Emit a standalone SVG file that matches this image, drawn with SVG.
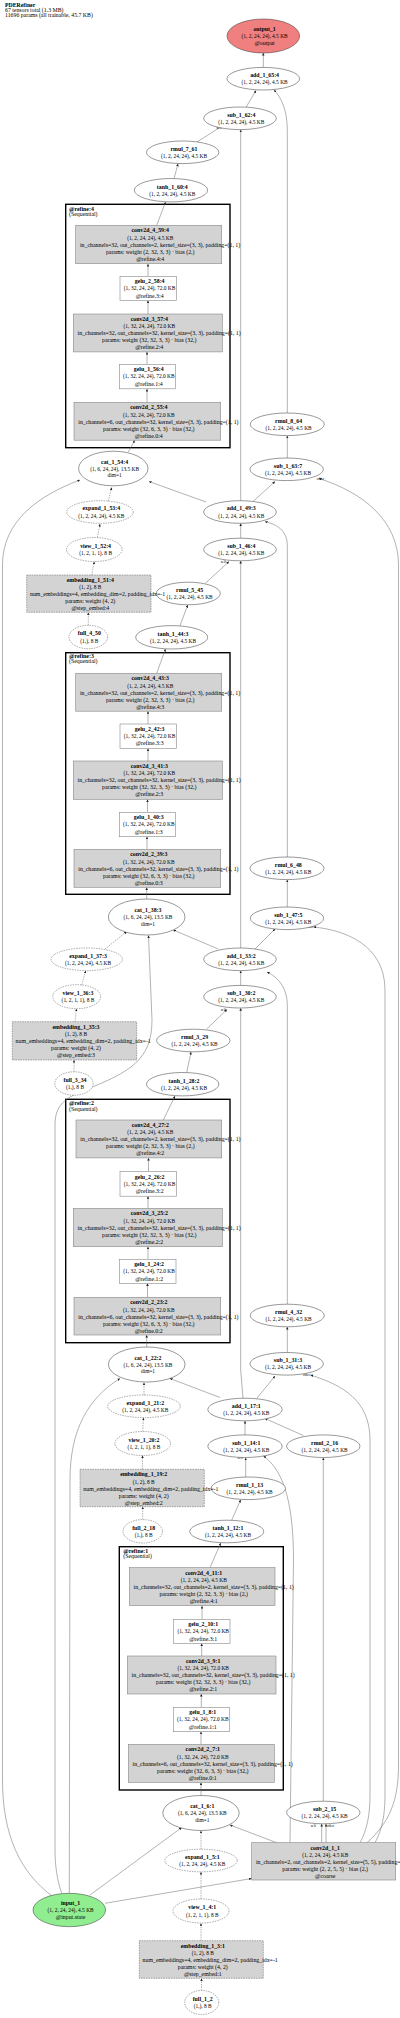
<svg xmlns="http://www.w3.org/2000/svg" width="400" height="2018" viewBox="0 0 400 2018">
<style>
text{font-family:"Liberation Serif","Times New Roman",serif;font-size:5.85px;text-anchor:middle;fill:#000}
.b{font-weight:bold}
.s{font-size:5.4px}
.w{text-anchor:start}
.l{text-anchor:start}
.h{font-size:5.8px;text-anchor:start}
.e{font-size:3.6px}
.el{fill:#fff;stroke:#333;stroke-width:0.5}
.ed{fill:#fff;stroke:#555;stroke-width:0.5;stroke-dasharray:1.5,1}
.bx{fill:#d3d3d3;stroke:#888;stroke-width:0.6}
.bw{fill:#fff;stroke:#888;stroke-width:0.6}
.bd{fill:#d3d3d3;stroke:#555;stroke-width:0.5;stroke-dasharray:1.5,1}
.cl{fill:none;stroke:#000;stroke-width:1.4}
#edges path{fill:none;stroke:#666;stroke-width:0.5;marker-end:url(#a)}
#edges path.d{stroke-dasharray:1.5,1}
</style>
<defs>
<marker id="a" viewBox="0 0 10 10" refX="10" refY="5" markerWidth="2.6" markerHeight="2.6" orient="auto" markerUnits="userSpaceOnUse"><path d="M0,0 L10,5 L0,10 z" fill="#222"/></marker>
</defs>
<rect width="400" height="2018" fill="#fff"/>
<g id="header">
<text class="h b" x="5" y="6.6">PDERefiner</text>
<text class="h" x="5" y="11.6">67 tensors total (1.3 MB)</text>
<text class="h" x="5" y="16.6">11696 params (all trainable, 45.7 KB)</text>
</g>
<g id="clusters">
<g id="cluster_refine4"><rect class="cl" x="65.7" y="204.3" width="164.3" height="243.4"/><text class="l b" x="69" y="211">@refine:4</text><text class="l" x="69" y="216.3">(Sequential)</text></g>
<g id="cluster_refine3"><rect class="cl" x="65.7" y="652.7" width="164.3" height="241.6"/><text class="l b" x="69" y="657.7">@refine:3</text><text class="l" x="69" y="663">(Sequential)</text></g>
<g id="cluster_refine2"><rect class="cl" x="65.7" y="1099.3" width="164.3" height="243.4"/><text class="l b" x="69" y="1105.3">@refine:2</text><text class="l" x="69" y="1111">(Sequential)</text></g>
<g id="cluster_refine1"><rect class="cl" x="119.3" y="1546.7" width="164" height="243.3"/><text class="l b" x="123.3" y="1552.7">@refine:1</text><text class="l" x="123.3" y="1558">(Sequential)</text></g>
</g>
<g id="edges">
<path d="M263.3,67.4 L263.3,53"/>
<path d="M246,107.3 L256,90.5"/>
<path d="M287.3,413 L287.3,130 C287.3,110 281,97 274,90"/>
<path d="M197,142 L222,126"/>
<path d="M240.7,500.7 L240.7,129.8"/>
<path d="M174,178.5 L178,163.8"/>
<path d="M156.7,225.3 L165.5,202"/>
<path d="M148,276.3 L148,263.9"/>
<path d="M148,314 L148,300.5"/>
<path d="M147,364.3 L147,351.9"/>
<path d="M147,402.3 L147,389"/>
<path d="M128.3,452 L134.7,440.3"/>
<path d="M287.3,458 L287.3,435.8"/>
<path d="M206,502 L149,481.5"/>
<path d="M253,501.5 L275,481.5"/>
<path d="M52,1896 C20,1872 2.5,1835 2.5,1780 L2.5,565 C2.5,520 40,495 80,480"/>
<path d="M367,1842.7 C390,1822 398.5,1800 398.5,1765 L398.5,565 C398.5,520 362,492 319,478.5"/>
<path class="d" d="M108.3,501 L111.7,487.5"/>
<path class="d" d="M97.3,537.5 L100,524"/>
<path class="d" d="M91.7,575 L94.3,561.7"/>
<path class="d" d="M88.3,625.3 L88.3,612.5"/>
<path d="M205.7,583 L229,561.5"/>
<path d="M240.7,538 L240.7,523.5"/>
<path d="M287.3,857 L287.3,545 C287.3,531 277,524 265,521.7"/>
<path d="M240.7,948 L240.7,561"/>
<path d="M180,625.7 L187.7,605"/>
<path d="M156.7,673.3 L165.5,649"/>
<path d="M148,724 L148,711.2"/>
<path d="M148,761 L148,748.5"/>
<path d="M147.5,812.3 L147.5,799.5"/>
<path d="M147,849.3 L147,836.8"/>
<path d="M146.7,899 L146.7,887.5"/>
<path d="M287.3,907 L287.3,879.8"/>
<path d="M218.3,949 L173.3,930"/>
<path d="M255,949 L275,929"/>
<path class="d" d="M105,949 L126.7,931.7"/>
<path class="d" d="M81.7,985 L85.7,970.8"/>
<path class="d" d="M75,1021.7 L76.5,1008.8"/>
<path class="d" d="M74,1071.8 L74,1060"/>
<path d="M61.7,1893.3 C57,1880 55,1865 55,1850 L55,1125 C55,1105 65,1098 85,1090 C130,1072 152,1060 152,1020 L148.5,935.5"/>
<path d="M240.7,985.4 L240.7,970.8"/>
<path d="M287.3,1304.2 L287.3,1005 C287.3,990 280,978 267,972"/>
<path d="M243,1398.2 L240.7,1370 L240.7,1008.2"/>
<path d="M206.7,1029 L227,1009.5"/>
<path d="M186.7,1072.5 L191,1052"/>
<path d="M163.3,1120 L175,1096"/>
<path d="M148.5,1171.7 L148.5,1158"/>
<path d="M148,1208.3 L148,1196.2"/>
<path d="M148,1259.3 L148,1246.8"/>
<path d="M147.5,1297.3 L147.5,1283.3"/>
<path d="M146.7,1347 L146.7,1335"/>
<path d="M287.3,1352.5 L287.3,1327"/>
<path d="M220,1397.5 L170,1378.5"/>
<path d="M256.7,1398.5 L275,1376"/>
<path class="d" d="M144,1395 L144,1382.5"/>
<path class="d" d="M142.7,1431.5 L143.5,1417.8"/>
<path class="d" d="M142.5,1469.3 L142.5,1455.5"/>
<path class="d" d="M142.7,1519.6 L142.7,1506.7"/>
<path d="M69.3,1893.3 L70,1480 C70,1430 88,1398 120,1378.5"/>
<path d="M360,1842.7 C367,1830 370,1815 370,1795 L370,1440 C370,1400 342,1385 310.5,1375"/>
<path d="M245,1434.9 L245,1421"/>
<path d="M303.3,1435.5 L265,1418.5"/>
<path d="M245.7,1477 L245.7,1457.8"/>
<path d="M290,1842.7 L293.5,1560 C293.5,1510 286,1472 263.5,1456"/>
<path d="M323.3,1801.2 L323.3,1457.7"/>
<path d="M231.7,1520.2 L240.7,1499.8"/>
<path d="M210,1567.7 L220.7,1543"/>
<path d="M202,1619.3 L202,1606"/>
<path d="M201.7,1656 L201.7,1643.5"/>
<path d="M201.3,1707.3 L201.3,1694"/>
<path d="M201,1744.3 L201,1731.8"/>
<path d="M201,1795.5 L201,1782.5"/>
<path d="M321.7,1842.7 L321.7,1824"/>
<path d="M326,1842.7 L326,1824"/>
<path d="M276.7,1842.7 L230,1825"/>
<path d="M90,1895 L181.7,1827.5"/>
<path class="d" d="M201,1849.2 L201,1830.7"/>
<path class="d" d="M201,1899 L201,1872"/>
<path class="d" d="M201,1940.7 L201,1923.2"/>
<path class="d" d="M201.5,1990.5 L201.5,1978.5"/>
<path d="M105,1903.3 L251.7,1878.5"/>
<path d="M375,1842.7 C382,1830 385,1815 385,1795 L385,990 C385,945 345,930 313.5,927"/>
</g>
<g id="edge_labels">
<text class="e" x="219" y="128.9">self</text>
<text class="e" x="223.3" y="562.9">self</text>
<text class="e" x="223.3" y="1010.5">self</text>
<text class="e" x="240" y="1458.9">self</text>
<text class="e" x="263.3" y="1456.2">other</text>
<text class="e" x="320.5" y="479.5">other</text>
<text class="e" x="309.5" y="928.2">other</text>
<text class="e" x="306.7" y="1376.2">other</text>
<text class="e" x="313.3" y="1827.2">self</text>
<text class="e" x="330.5" y="1827.2">other</text>
</g>
<g id="output_1"><ellipse cx="263.3" cy="36" rx="36.3" ry="17" fill="#f08080" stroke="#333" stroke-width="0.5"/><text class="b" x="264.6" y="31.1">output_1</text><text class="s" x="264.6" y="38">(1, 2, 24, 24), 4.5 KB</text><text x="264.6" y="44.9">@output</text></g>
<g id="add_1_65_4"><ellipse class="el" cx="263.3" cy="78.7" rx="36.3" ry="11.3"/><text class="b" x="264.6" y="77.1">add_1_65:4</text><text class="s" x="264.6" y="84.3">(1, 2, 24, 24), 4.5 KB</text></g>
<g id="sub_1_62_4"><ellipse class="el" cx="240" cy="118.3" rx="36.3" ry="11.3"/><text class="b" x="241.3" y="116.7">sub_1_62:4</text><text class="s" x="241.3" y="123.9">(1, 2, 24, 24), 4.5 KB</text></g>
<g id="rmul_7_61"><ellipse class="el" cx="182.7" cy="152.3" rx="36.2" ry="11.3"/><text class="b" x="184" y="150.7">rmul_7_61</text><text class="s" x="184" y="157.9">(1, 2, 24, 24), 4.5 KB</text></g>
<g id="tanh_1_60_4"><ellipse class="el" cx="171" cy="190.2" rx="36.7" ry="11.7"/><text class="b" x="172.3" y="188.6">tanh_1_60:4</text><text class="s" x="172.3" y="195.8">(1, 2, 24, 24), 4.5 KB</text></g>
<g id="conv2d_4_59_4"><rect class="bx" x="75.7" y="225.3" width="146" height="38.4"/><text class="b" x="150.2" y="232.3">conv2d_4_59:4</text><text class="s" x="150.2" y="239.5">(1, 2, 24, 24), 4.5 KB</text><text class="w" x="80" y="246.6">in_channels=32, out_channels=2, kernel_size=(3, 3), padding=(1, 1)</text><text x="150.2" y="253.7">params: weight (2, 32, 3, 3) · bias (2,)</text><text x="150.2" y="260.7">@refine.4:4</text></g>
<g id="gelu_2_58_4"><rect class="bw" x="120" y="276.3" width="56.3" height="24.2"/><text class="b" x="149.6" y="283.1">gelu_2_58:4</text><text class="s" x="149.6" y="290.3">(1, 32, 24, 24), 72.0 KB</text><text x="149.6" y="297.6">@refine.3:4</text></g>
<g id="conv2d_3_57_4"><rect class="bx" x="73.3" y="314" width="149" height="37.9"/><text class="b" x="149.3" y="321">conv2d_3_57:4</text><text class="s" x="149.3" y="328.2">(1, 32, 24, 24), 72.0 KB</text><text class="w" x="77.6" y="335.3">in_channels=32, out_channels=32, kernel_size=(3, 3), padding=(1, 1)</text><text x="149.3" y="342.4">params: weight (32, 32, 3, 3) · bias (32,)</text><text x="149.3" y="349.4">@refine.2:4</text></g>
<g id="gelu_1_56_4"><rect class="bw" x="119.3" y="364.3" width="56" height="24.5"/><text class="b" x="148.8" y="371.1">gelu_1_56:4</text><text class="s" x="148.8" y="378.3">(1, 32, 24, 24), 72.0 KB</text><text x="148.8" y="385.6">@refine.1:4</text></g>
<g id="conv2d_2_55_4"><rect class="bx" x="74" y="402.3" width="146.7" height="37.9"/><text class="b" x="148.8" y="409.3">conv2d_2_55:4</text><text class="s" x="148.8" y="416.5">(1, 32, 24, 24), 72.0 KB</text><text class="w" x="78.3" y="423.6">in_channels=6, out_channels=32, kernel_size=(3, 3), padding=(1, 1)</text><text x="148.8" y="430.7">params: weight (32, 6, 3, 3) · bias (32,)</text><text x="148.8" y="437.7">@refine.0:4</text></g>
<g id="cat_1_54_4"><ellipse class="el" cx="113.3" cy="468.5" rx="34.7" ry="17.3"/><text class="b" x="114.6" y="463.6">cat_1_54:4</text><text class="s" x="114.6" y="470.5">(1, 6, 24, 24), 13.5 KB</text><text class="s" x="114.6" y="477.4">dim=1</text></g>
<g id="rmul_8_64"><ellipse class="el" cx="287.3" cy="424.3" rx="37" ry="11.3"/><text class="b" x="288.6" y="422.7">rmul_8_64</text><text class="s" x="288.6" y="429.9">(1, 2, 24, 24), 4.5 KB</text></g>
<g id="sub_1_63_7"><ellipse class="el" cx="286.7" cy="469.3" rx="36.7" ry="11.3"/><text class="b" x="288" y="467.7">sub_1_63:7</text><text class="s" x="288" y="474.9">(1, 2, 24, 24), 4.5 KB</text></g>
<g id="add_1_49_3"><ellipse class="el" cx="240" cy="512" rx="36.3" ry="11.3"/><text class="b" x="241.3" y="510.4">add_1_49:3</text><text class="s" x="241.3" y="517.6">(1, 2, 24, 24), 4.5 KB</text></g>
<g id="expand_1_53_4"><ellipse class="ed" cx="100" cy="512" rx="33.3" ry="11.3"/><text class="b" x="101.3" y="510.4">expand_1_53:4</text><text class="s" x="101.3" y="517.6">(1, 2, 24, 24), 4.5 KB</text></g>
<g id="view_1_52_4"><ellipse class="ed" cx="94.3" cy="549.5" rx="27.8" ry="12"/><text class="b" x="95.6" y="547.9">view_1_52:4</text><text class="s" x="95.6" y="555.1">(1, 2, 1, 1), 8 B</text></g>
<g id="rmul_5_45"><ellipse class="el" cx="188.3" cy="593.5" rx="32" ry="11.3"/><text class="b" x="189.6" y="591.9">rmul_5_45</text><text class="s" x="189.6" y="599.1">(1, 2, 24, 24), 4.5 KB</text></g>
<g id="embedding_1_51_4"><rect class="bd" x="26.7" y="575" width="124.3" height="37.3"/><text class="b" x="90.3" y="582">embedding_1_51:4</text><text class="s" x="90.3" y="589.2">(1, 2), 8 B</text><text class="w" x="30" y="596.3">num_embeddings=4, embedding_dim=2, padding_idx=-1</text><text x="90.3" y="603.4">params: weight (4, 2)</text><text x="90.3" y="610.4">@step_embed:4</text></g>
<g id="full_4_50"><ellipse class="ed" cx="88.3" cy="637" rx="19.3" ry="11.7"/><text class="b" x="89.3" y="635.4">full_4_50</text><text class="s" x="89.3" y="642.6">(1,), 8 B</text></g>
<g id="sub_1_46_4"><ellipse class="el" cx="240" cy="549.5" rx="36.3" ry="11.3"/><text class="b" x="241.3" y="547.9">sub_1_46:4</text><text class="s" x="241.3" y="555.1">(1, 2, 24, 24), 4.5 KB</text></g>
<g id="tanh_1_44_3"><ellipse class="el" cx="171.7" cy="637.3" rx="36" ry="11.7"/><text class="b" x="173" y="635.7">tanh_1_44:3</text><text class="s" x="173" y="642.9">(1, 2, 24, 24), 4.5 KB</text></g>
<g id="conv2d_4_43_3"><rect class="bx" x="75.7" y="673.3" width="146" height="37.9"/><text class="b" x="150.2" y="680.3">conv2d_4_43:3</text><text class="s" x="150.2" y="687.5">(1, 2, 24, 24), 4.5 KB</text><text class="w" x="80" y="694.6">in_channels=32, out_channels=2, kernel_size=(3, 3), padding=(1, 1)</text><text x="150.2" y="701.7">params: weight (2, 32, 3, 3) · bias (2,)</text><text x="150.2" y="708.7">@refine.4:3</text></g>
<g id="gelu_2_42_3"><rect class="bw" x="120" y="724" width="56.3" height="24.3"/><text class="b" x="149.6" y="730.8">gelu_2_42:3</text><text class="s" x="149.6" y="738">(1, 32, 24, 24), 72.0 KB</text><text x="149.6" y="745.3">@refine.3:3</text></g>
<g id="conv2d_3_41_3"><rect class="bx" x="73.3" y="761" width="149" height="38.3"/><text class="b" x="149.3" y="768">conv2d_3_41:3</text><text class="s" x="149.3" y="775.2">(1, 32, 24, 24), 72.0 KB</text><text class="w" x="77.6" y="782.3">in_channels=32, out_channels=32, kernel_size=(3, 3), padding=(1, 1)</text><text x="149.3" y="789.4">params: weight (32, 32, 3, 3) · bias (32,)</text><text x="149.3" y="796.4">@refine.2:3</text></g>
<g id="gelu_1_40_3"><rect class="bw" x="119.3" y="812.3" width="56" height="24.4"/><text class="b" x="148.8" y="819.1">gelu_1_40:3</text><text class="s" x="148.8" y="826.3">(1, 32, 24, 24), 72.0 KB</text><text x="148.8" y="833.6">@refine.1:3</text></g>
<g id="conv2d_2_39_3"><rect class="bx" x="74" y="849.3" width="146.7" height="38"/><text class="b" x="148.8" y="856.3">conv2d_2_39:3</text><text class="s" x="148.8" y="863.5">(1, 32, 24, 24), 72.0 KB</text><text class="w" x="78.3" y="870.6">in_channels=6, out_channels=32, kernel_size=(3, 3), padding=(1, 1)</text><text x="148.8" y="877.7">params: weight (32, 6, 3, 3) · bias (32,)</text><text x="148.8" y="884.7">@refine.0:3</text></g>
<g id="cat_1_38_3"><ellipse class="el" cx="146.7" cy="917" rx="38.3" ry="18"/><text class="b" x="148" y="912.1">cat_1_38:3</text><text class="s" x="148" y="919">(1, 6, 24, 24), 13.5 KB</text><text class="s" x="148" y="925.9">dim=1</text></g>
<g id="rmul_6_48"><ellipse class="el" cx="287" cy="868.3" rx="37" ry="11.3"/><text class="b" x="288.3" y="866.7">rmul_6_48</text><text class="s" x="288.3" y="873.9">(1, 2, 24, 24), 4.5 KB</text></g>
<g id="sub_1_47_5"><ellipse class="el" cx="287" cy="918.3" rx="36.7" ry="11.3"/><text class="b" x="288.3" y="916.7">sub_1_47:5</text><text class="s" x="288.3" y="923.9">(1, 2, 24, 24), 4.5 KB</text></g>
<g id="add_1_33_2"><ellipse class="el" cx="240" cy="959.3" rx="36.3" ry="11.3"/><text class="b" x="241.3" y="957.7">add_1_33:2</text><text class="s" x="241.3" y="964.9">(1, 2, 24, 24), 4.5 KB</text></g>
<g id="expand_1_37_3"><ellipse class="ed" cx="86.7" cy="959.3" rx="35.7" ry="11.3"/><text class="b" x="88" y="957.7">expand_1_37:3</text><text class="s" x="88" y="964.9">(1, 2, 24, 24), 4.5 KB</text></g>
<g id="view_1_36_3"><ellipse class="ed" cx="76.7" cy="996.7" rx="24" ry="12"/><text class="b" x="78" y="995.1">view_1_36:3</text><text class="s" x="78" y="1002.3">(1, 2, 1, 1), 8 B</text></g>
<g id="sub_1_30_2"><ellipse class="el" cx="240" cy="996.7" rx="36.3" ry="11.3"/><text class="b" x="241.3" y="995.1">sub_1_30:2</text><text class="s" x="241.3" y="1002.3">(1, 2, 24, 24), 4.5 KB</text></g>
<g id="rmul_3_29"><ellipse class="el" cx="193.3" cy="1040.5" rx="36.7" ry="11.3"/><text class="b" x="194.6" y="1038.9">rmul_3_29</text><text class="s" x="194.6" y="1046.1">(1, 2, 24, 24), 4.5 KB</text></g>
<g id="embedding_1_35_3"><rect class="bd" x="12.3" y="1021.7" width="124.4" height="38.3"/><text class="b" x="76" y="1028.7">embedding_1_35:3</text><text class="s" x="76" y="1035.9">(1, 2), 8 B</text><text class="w" x="15.6" y="1043">num_embeddings=4, embedding_dim=2, padding_idx=-1</text><text x="76" y="1050.1">params: weight (4, 2)</text><text x="76" y="1057.1">@step_embed:3</text></g>
<g id="full_3_34"><ellipse class="ed" cx="74" cy="1083.5" rx="19.2" ry="11.7"/><text class="b" x="75" y="1081.9">full_3_34</text><text class="s" x="75" y="1089.1">(1,), 8 B</text></g>
<g id="tanh_1_28_2"><ellipse class="el" cx="182.7" cy="1084.2" rx="36.2" ry="11.7"/><text class="b" x="184" y="1082.6">tanh_1_28:2</text><text class="s" x="184" y="1089.8">(1, 2, 24, 24), 4.5 KB</text></g>
<g id="conv2d_4_27_2"><rect class="bx" x="76" y="1120" width="145.7" height="37.9"/><text class="b" x="150.3" y="1127">conv2d_4_27:2</text><text class="s" x="150.3" y="1134.2">(1, 2, 24, 24), 4.5 KB</text><text class="w" x="80.3" y="1141.3">in_channels=32, out_channels=2, kernel_size=(3, 3), padding=(1, 1)</text><text x="150.3" y="1148.4">params: weight (2, 32, 3, 3) · bias (2,)</text><text x="150.3" y="1155.4">@refine.4:2</text></g>
<g id="gelu_2_26_2"><rect class="bw" x="120" y="1171.7" width="56.3" height="24.5"/><text class="b" x="149.6" y="1178.5">gelu_2_26:2</text><text class="s" x="149.6" y="1185.7">(1, 32, 24, 24), 72.0 KB</text><text x="149.6" y="1193">@refine.3:2</text></g>
<g id="conv2d_3_25_2"><rect class="bx" x="73.3" y="1208.3" width="149" height="38.4"/><text class="b" x="149.3" y="1215.3">conv2d_3_25:2</text><text class="s" x="149.3" y="1222.5">(1, 32, 24, 24), 72.0 KB</text><text class="w" x="77.6" y="1229.6">in_channels=32, out_channels=32, kernel_size=(3, 3), padding=(1, 1)</text><text x="149.3" y="1236.7">params: weight (32, 32, 3, 3) · bias (32,)</text><text x="149.3" y="1243.7">@refine.2:2</text></g>
<g id="gelu_1_24_2"><rect class="bw" x="119.3" y="1259.3" width="56.7" height="24"/><text class="b" x="149.1" y="1266.1">gelu_1_24:2</text><text class="s" x="149.1" y="1273.3">(1, 32, 24, 24), 72.0 KB</text><text x="149.1" y="1280.6">@refine.1:2</text></g>
<g id="conv2d_2_23_2"><rect class="bx" x="74" y="1297.3" width="146.7" height="37.7"/><text class="b" x="148.8" y="1304.3">conv2d_2_23:2</text><text class="s" x="148.8" y="1311.5">(1, 32, 24, 24), 72.0 KB</text><text class="w" x="78.3" y="1318.6">in_channels=6, out_channels=32, kernel_size=(3, 3), padding=(1, 1)</text><text x="148.8" y="1325.7">params: weight (32, 6, 3, 3) · bias (32,)</text><text x="148.8" y="1332.7">@refine.0:2</text></g>
<g id="cat_1_22_2"><ellipse class="el" cx="146.7" cy="1364.5" rx="38.3" ry="17.5"/><text class="b" x="148" y="1359.6">cat_1_22:2</text><text class="s" x="148" y="1366.5">(1, 6, 24, 24), 13.5 KB</text><text class="s" x="148" y="1373.4">dim=1</text></g>
<g id="rmul_4_32"><ellipse class="el" cx="287.3" cy="1315.5" rx="37" ry="11.3"/><text class="b" x="288.6" y="1313.9">rmul_4_32</text><text class="s" x="288.6" y="1321.1">(1, 2, 24, 24), 4.5 KB</text></g>
<g id="sub_1_31_3"><ellipse class="el" cx="286.7" cy="1363.8" rx="36.7" ry="11.3"/><text class="b" x="288" y="1362.2">sub_1_31:3</text><text class="s" x="288" y="1369.4">(1, 2, 24, 24), 4.5 KB</text></g>
<g id="add_1_17_1"><ellipse class="el" cx="245" cy="1409.5" rx="37.2" ry="11.3"/><text class="b" x="246.3" y="1407.9">add_1_17:1</text><text class="s" x="246.3" y="1415.1">(1, 2, 24, 24), 4.5 KB</text></g>
<g id="expand_1_21_2"><ellipse class="ed" cx="144" cy="1406.3" rx="36.3" ry="11.3"/><text class="b" x="145.3" y="1404.7">expand_1_21:2</text><text class="s" x="145.3" y="1411.9">(1, 2, 24, 24), 4.5 KB</text></g>
<g id="view_1_20_2"><ellipse class="ed" cx="142.7" cy="1443.5" rx="27.8" ry="12"/><text class="b" x="144" y="1441.9">view_1_20:2</text><text class="s" x="144" y="1449.1">(1, 2, 1, 1), 8 B</text></g>
<g id="sub_1_14_1"><ellipse class="el" cx="245" cy="1446.2" rx="37.2" ry="11.3"/><text class="b" x="246.3" y="1444.6">sub_1_14:1</text><text class="s" x="246.3" y="1451.8">(1, 2, 24, 24), 4.5 KB</text></g>
<g id="rmul_2_16"><ellipse class="el" cx="323.3" cy="1446.2" rx="36.7" ry="11.3"/><text class="b" x="324.6" y="1444.6">rmul_2_16</text><text class="s" x="324.6" y="1451.8">(1, 2, 24, 24), 4.5 KB</text></g>
<g id="rmul_1_13"><ellipse class="el" cx="248.3" cy="1488.3" rx="37.2" ry="11.3"/><text class="b" x="249.6" y="1486.7">rmul_1_13</text><text class="s" x="249.6" y="1493.9">(1, 2, 24, 24), 4.5 KB</text></g>
<g id="embedding_1_19_2"><rect class="bd" x="80" y="1469.3" width="124.3" height="37.4"/><text class="b" x="143.7" y="1476.3">embedding_1_19:2</text><text class="s" x="143.7" y="1483.5">(1, 2), 8 B</text><text class="w" x="83.3" y="1490.6">num_embeddings=4, embedding_dim=2, padding_idx=-1</text><text x="143.7" y="1497.7">params: weight (4, 2)</text><text x="143.7" y="1504.7">@step_embed:2</text></g>
<g id="full_2_18"><ellipse class="ed" cx="142.7" cy="1531.3" rx="19.7" ry="11.7"/><text class="b" x="143.7" y="1529.7">full_2_18</text><text class="s" x="143.7" y="1536.9">(1,), 8 B</text></g>
<g id="tanh_1_12_1"><ellipse class="el" cx="226.7" cy="1531.5" rx="37" ry="11.3"/><text class="b" x="228" y="1529.9">tanh_1_12:1</text><text class="s" x="228" y="1537.1">(1, 2, 24, 24), 4.5 KB</text></g>
<g id="conv2d_4_11_1"><rect class="bx" x="129.3" y="1567.7" width="145.7" height="38"/><text class="b" x="203.7" y="1574.7">conv2d_4_11:1</text><text class="s" x="203.7" y="1581.9">(1, 2, 24, 24), 4.5 KB</text><text class="w" x="133.6" y="1589">in_channels=32, out_channels=2, kernel_size=(3, 3), padding=(1, 1)</text><text x="203.7" y="1596.1">params: weight (2, 32, 3, 3) · bias (2,)</text><text x="203.7" y="1603.1">@refine.4:1</text></g>
<g id="gelu_2_10_1"><rect class="bw" x="173.3" y="1619.3" width="56.7" height="24"/><text class="b" x="203.2" y="1626.1">gelu_2_10:1</text><text class="s" x="203.2" y="1633.3">(1, 32, 24, 24), 72.0 KB</text><text x="203.2" y="1640.6">@refine.3:1</text></g>
<g id="conv2d_3_9_1"><rect class="bx" x="127.3" y="1656" width="148.7" height="38"/><text class="b" x="203.2" y="1663">conv2d_3_9:1</text><text class="s" x="203.2" y="1670.2">(1, 32, 24, 24), 72.0 KB</text><text class="w" x="131.6" y="1677.3">in_channels=32, out_channels=32, kernel_size=(3, 3), padding=(1, 1)</text><text x="203.2" y="1684.4">params: weight (32, 32, 3, 3) · bias (32,)</text><text x="203.2" y="1691.4">@refine.2:1</text></g>
<g id="gelu_1_8_1"><rect class="bw" x="173.3" y="1707.3" width="56" height="24.4"/><text class="b" x="202.8" y="1714.1">gelu_1_8:1</text><text class="s" x="202.8" y="1721.3">(1, 32, 24, 24), 72.0 KB</text><text x="202.8" y="1728.6">@refine.1:1</text></g>
<g id="conv2d_2_7_1"><rect class="bx" x="128.3" y="1744.3" width="146" height="38"/><text class="b" x="202.8" y="1751.3">conv2d_2_7:1</text><text class="s" x="202.8" y="1758.5">(1, 32, 24, 24), 72.0 KB</text><text class="w" x="132.6" y="1765.6">in_channels=6, out_channels=32, kernel_size=(3, 3), padding=(1, 1)</text><text x="202.8" y="1772.7">params: weight (32, 6, 3, 3) · bias (32,)</text><text x="202.8" y="1779.7">@refine.0:1</text></g>
<g id="cat_1_6_1"><ellipse class="el" cx="201" cy="1813" rx="38.2" ry="17.5"/><text class="b" x="202.3" y="1808.1">cat_1_6:1</text><text class="s" x="202.3" y="1815">(1, 6, 24, 24), 13.5 KB</text><text class="s" x="202.3" y="1821.9">dim=1</text></g>
<g id="sub_2_15"><ellipse class="el" cx="323.3" cy="1812.5" rx="36.7" ry="11.3"/><text class="b" x="324.6" y="1810.9">sub_2_15</text><text class="s" x="324.6" y="1818.1">(1, 2, 24, 24), 4.5 KB</text></g>
<g id="conv2d_1_1"><rect class="bx" x="251.7" y="1842.7" width="144" height="37.3"/><text class="b" x="325.2" y="1849.7">conv2d_1_1</text><text class="s" x="325.2" y="1856.9">(1, 2, 24, 24), 4.5 KB</text><text class="w" x="256" y="1864">in_channels=2, out_channels=2, kernel_size=(5, 5), padding=(2, 2)</text><text x="325.2" y="1871.1">params: weight (2, 2, 5, 5) · bias (2,)</text><text x="325.2" y="1878.1">@coarse</text></g>
<g id="expand_1_5_1"><ellipse class="ed" cx="201" cy="1860.5" rx="36.2" ry="11.3"/><text class="b" x="202.3" y="1858.9">expand_1_5:1</text><text class="s" x="202.3" y="1866.1">(1, 2, 24, 24), 4.5 KB</text></g>
<g id="input_1"><ellipse cx="69.3" cy="1910" rx="36.3" ry="16.7" fill="#90ee90" stroke="#333" stroke-width="0.5"/><text class="b" x="70.6" y="1905.1">input_1</text><text class="s" x="70.6" y="1912">(1, 2, 24, 24), 4.5 KB</text><text x="70.6" y="1918.9">@input.state</text></g>
<g id="view_1_4_1"><ellipse class="ed" cx="201" cy="1911" rx="28" ry="12"/><text class="b" x="202.3" y="1909.4">view_1_4:1</text><text class="s" x="202.3" y="1916.6">(1, 2, 1, 1), 8 B</text></g>
<g id="embedding_1_3_1"><rect class="bd" x="139.3" y="1940.7" width="124" height="37.6"/><text class="b" x="202.8" y="1947.7">embedding_1_3:1</text><text class="s" x="202.8" y="1954.9">(1, 2), 8 B</text><text class="w" x="142.6" y="1962">num_embeddings=4, embedding_dim=2, padding_idx=-1</text><text x="202.8" y="1969.1">params: weight (4, 2)</text><text x="202.8" y="1976.1">@step_embed:1</text></g>
<g id="full_1_2"><ellipse class="ed" cx="201.7" cy="2002.5" rx="17" ry="12"/><text class="b" x="202.7" y="2000.9">full_1_2</text><text class="s" x="202.7" y="2008.1">(1,), 8 B</text></g>
</svg>
